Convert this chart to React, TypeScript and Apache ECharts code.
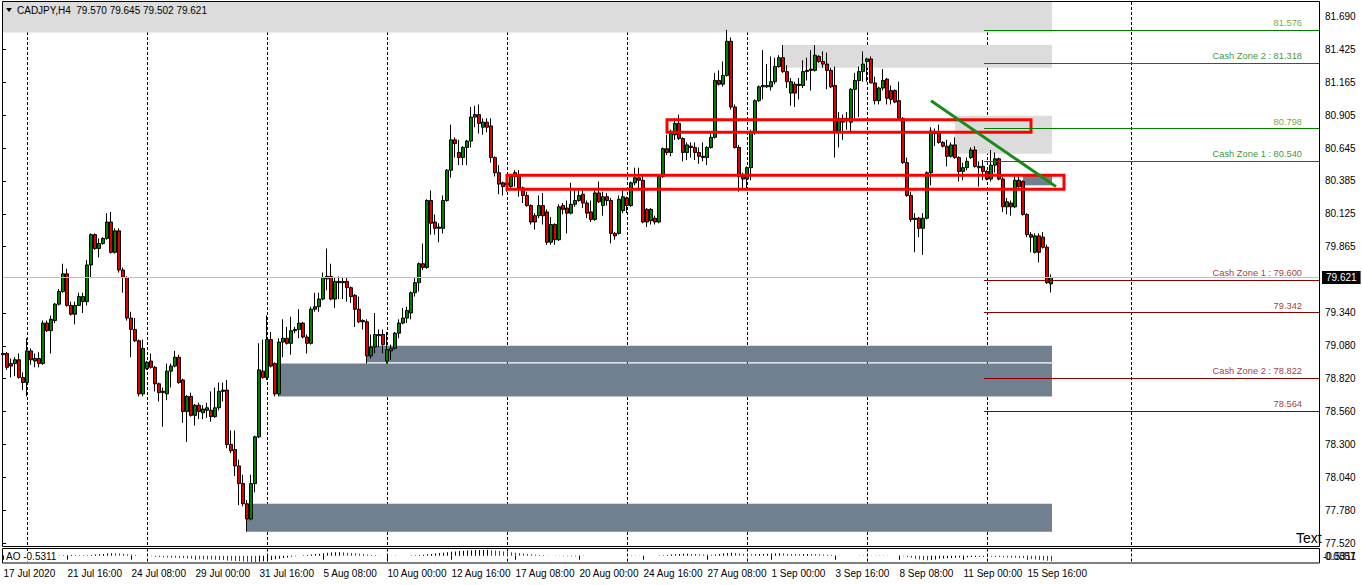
import React, { useEffect, useRef } from "react";
import * as echarts from "echarts";

const headerText = "CADJPY,H4  79.570 79.645 79.502 79.621";
const xTickLabels = [
  "17 Jul 2020", "21 Jul 16:00", "24 Jul 08:00", "29 Jul 00:00", "31 Jul 16:00",
  "5 Aug 08:00", "10 Aug 00:00", "12 Aug 16:00", "17 Aug 08:00", "20 Aug 00:00",
  "24 Aug 16:00", "27 Aug 08:00", "1 Sep 00:00", "3 Sep 16:00", "8 Sep 08:00",
  "11 Sep 00:00", "15 Sep 16:00",
];
const yTickValues = [77.52, 77.78, 78.04, 78.3, 78.56, 78.82, 79.08, 79.34, 79.865, 80.125, 80.385, 80.645, 80.905, 81.165, 81.425, 81.69];

// [open, close, low, high]
const candles: number[][] = [
  [79.01,79.02,78.91,79.11],[79.02,78.91,78.89,79.03],[78.94,78.92,78.83,78.98],[78.94,78.97,78.84,78.99],[78.97,78.83,78.82,79.02],
  [78.83,78.79,78.73,78.87],[78.79,79.04,78.68,79.14],[79.04,78.97,78.93,79.06],[78.96,78.98,78.91,79.02],[78.98,78.94,78.91,79.03],
  [78.94,79.26,78.93,79.28],[79.26,79.2,79.19,79.28],[79.2,79.29,79.02,79.32],[79.28,79.41,79.26,79.42],[79.41,79.51,79.4,79.53],
  [79.51,79.65,79.5,79.73],[79.65,79.4,79.39,79.69],[79.4,79.33,79.32,79.43],[79.33,79.4,79.25,79.43],[79.4,79.47,79.4,79.5],
  [79.43,79.47,79.34,79.5],[79.43,79.72,79.4,79.76],[79.72,79.96,79.62,79.97],[79.96,79.85,79.84,79.97],[79.85,79.89,79.78,79.93],
  [79.89,79.93,79.88,79.94],[79.93,80.06,79.92,80.13],[80.06,79.82,79.81,80.14],[79.82,79.99,79.81,80.01],[79.99,79.68,79.66,80.01],
  [79.68,79.62,79.5,79.7],[79.62,79.3,79.28,79.63],[79.3,79.21,78.99,79.35],[79.21,79.12,79.11,79.3],[79.12,78.7,78.68,79.13],
  [78.7,79.06,78.68,79.13],[78.9,78.95,78.89,78.96],[78.96,78.91,78.9,79.02],[78.91,78.78,78.72,78.92],[78.78,78.71,78.64,78.79],
  [78.72,78.71,78.44,78.75],[78.7,78.88,78.65,78.94],[78.88,78.92,78.75,78.94],[78.92,78.99,78.91,79.04],[78.99,78.79,78.78,79.01],
  [78.81,78.56,78.47,78.82],[78.56,78.68,78.32,78.69],[78.68,78.53,78.52,78.71],[78.53,78.61,78.45,78.62],[78.61,78.56,78.5,78.63],
  [78.55,78.58,78.5,78.61],[78.57,78.59,78.51,78.63],[78.57,78.52,78.48,78.72],[78.52,78.59,78.51,78.75],[78.59,78.72,78.57,78.79],
  [78.72,78.73,78.64,78.79],[78.73,78.3,78.27,78.81],[78.3,78.25,78.23,78.41],[78.26,78.13,78.05,78.41],[78.13,77.99,77.82,78.18],
  [77.99,77.83,77.81,78.06],[77.83,77.71,77.61,77.86],[77.71,77.99,77.7,78.06],[77.99,78.36,77.92,78.37],[78.36,78.89,78.35,79.1],
  [78.88,78.83,78.82,79.13],[78.83,79.13,78.81,79.32],[79.13,78.92,78.91,79.19],[78.94,78.7,78.68,78.95],[78.7,79.11,78.68,79.14],
  [79.11,79.14,78.99,79.29],[79.14,79.1,79.09,79.23],[79.1,79.2,79.01,79.31],[79.2,79.21,79.18,79.23],[79.21,79.26,79.14,79.37],
  [79.26,79.15,79.14,79.27],[79.15,79.1,79.02,79.17],[79.1,79.37,79.09,79.39],[79.37,79.39,79.35,79.5],[79.39,79.45,79.35,79.5],
  [79.45,79.62,79.44,79.66],[79.61,79.63,79.52,79.85],[79.63,79.45,79.44,79.73],[79.45,79.59,79.38,79.62],[79.59,79.58,79.45,79.63],
  [79.58,79.59,79.45,79.62],[79.59,79.54,79.43,79.62],[79.54,79.47,79.42,79.55],[79.48,79.37,79.23,79.49],[79.37,79.27,79.26,79.47],
  [79.28,79.27,79.21,79.29],[79.27,79.0,78.94,79.29],[79.0,79.07,78.98,79.17],[79.07,79.17,79.02,79.34],[79.16,79.17,79.07,79.21],
  [79.17,79.09,79.02,79.21],[78.96,79.05,78.94,79.19],[79.04,79.06,78.97,79.09],[79.06,79.18,79.05,79.19],[79.18,79.26,79.14,79.29],
  [79.26,79.3,79.25,79.38],[79.3,79.36,79.26,79.39],[79.34,79.5,79.29,79.51],[79.5,79.58,79.47,79.62],[79.58,79.73,79.51,79.74],
  [79.73,79.7,79.68,79.89],[79.7,80.23,79.69,80.24],[80.23,80.05,79.96,80.31],[80.06,80.01,79.96,80.12],[80.01,80.02,79.9,80.05],
  [80.01,80.23,79.97,80.27],[80.23,80.47,80.22,80.48],[80.47,80.71,80.41,80.83],[80.71,80.68,80.57,80.73],[80.61,80.57,80.51,80.71],
  [80.57,80.65,80.51,80.66],[80.65,80.7,80.51,80.71],[80.7,80.89,80.65,80.97],[80.89,80.91,80.81,80.98],[80.91,80.84,80.76,80.99],
  [80.81,80.85,80.75,80.88],[80.85,80.81,80.77,80.88],[80.82,80.57,80.53,80.88],[80.57,80.45,80.42,80.58],[80.45,80.36,80.28,80.51],
  [80.37,80.34,80.27,80.38],[80.35,80.37,80.3,80.41],[80.34,80.42,80.33,80.43],[80.42,80.45,80.34,80.47],[80.43,80.33,80.26,80.47],
  [80.33,80.27,80.21,80.34],[80.27,80.19,80.18,80.3],[80.19,80.06,80.04,80.2],[80.11,80.06,80.0,80.13],[80.11,80.19,80.09,80.27],
  [80.19,80.11,80.04,80.29],[80.14,79.9,79.88,80.16],[79.9,80.04,79.88,80.1],[80.04,79.92,79.88,80.05],[79.92,80.18,79.91,80.2],
  [80.19,80.16,80.12,80.21],[80.17,80.13,79.97,80.23],[80.13,80.2,80.12,80.37],[80.2,80.23,80.18,80.31],[80.23,80.27,80.22,80.31],
  [80.28,80.21,80.17,80.31],[80.21,80.13,80.09,80.23],[80.14,80.08,80.06,80.23],[80.08,80.29,80.07,80.31],[80.29,80.22,80.21,80.38],
  [80.19,80.26,80.11,80.3],[80.26,80.23,80.19,80.29],[80.23,79.97,79.89,80.25],[79.97,79.95,79.92,79.98],[79.97,80.24,79.96,80.27],
  [80.15,80.26,80.13,80.31],[80.25,80.19,80.13,80.26],[80.19,80.37,80.18,80.38],[80.37,80.41,80.35,80.49],[80.41,80.39,80.31,80.49],
  [80.39,80.06,80.05,80.43],[80.16,80.06,80.02,80.17],[80.07,80.16,80.04,80.17],[80.09,80.06,80.04,80.11],[80.06,80.42,80.05,80.43],
  [80.42,80.64,80.41,80.65],[80.64,80.61,80.59,80.75],[80.61,80.76,80.58,80.79],[80.75,80.84,80.71,80.88],[80.84,80.72,80.71,80.91],
  [80.72,80.61,80.54,80.73],[80.61,80.67,80.55,80.69],[80.66,80.65,80.57,80.69],[80.65,80.61,80.55,80.69],[80.61,80.58,80.52,80.65],
  [80.58,80.57,80.54,80.69],[80.57,80.65,80.51,80.66],[80.65,80.73,80.64,80.77],[80.73,81.18,80.72,81.24],[81.18,81.15,81.14,81.26],
  [81.15,81.22,81.13,81.33],[81.22,81.49,81.21,81.58],[81.49,80.97,80.95,81.52],[80.97,80.65,80.64,80.99],[80.65,80.42,80.3,80.67],
  [80.42,80.4,80.33,80.45],[80.4,80.49,80.31,80.5],[80.49,80.77,80.39,80.79],[80.77,81.02,80.75,81.03],[81.02,81.13,81.01,81.14],
  [81.13,81.14,81.03,81.42],[81.13,81.14,81.12,81.31],[81.13,81.17,81.1,81.37],[81.17,81.29,81.15,81.36],[81.29,81.36,81.28,81.38],
  [81.36,81.25,81.24,81.46],[81.25,81.17,81.12,81.3],[81.08,81.17,80.98,81.2],[81.15,81.08,80.97,81.17],[81.15,81.14,81.03,81.2],
  [81.14,81.25,81.12,81.34],[81.25,81.26,81.18,81.36],[81.26,81.27,81.1,81.42],[81.26,81.38,81.25,81.46],[81.37,81.33,81.32,81.38],
  [81.33,81.31,81.28,81.41],[81.31,81.26,81.11,81.4],[81.26,81.13,81.12,81.28],[81.14,80.78,80.57,81.29],[80.78,80.88,80.65,80.93],
  [80.85,80.88,80.71,80.91],[80.86,80.88,80.79,80.93],[80.85,81.11,80.78,81.12],[81.11,81.18,80.88,81.24],[81.18,81.25,80.89,81.29],
  [81.25,81.31,81.17,81.41],[81.33,81.35,81.17,81.36],[81.35,81.16,81.16,81.37],[81.16,81.02,80.99,81.21],[81.02,81.12,80.99,81.13],
  [81.12,81.18,81.1,81.27],[81.19,81.04,80.99,81.2],[81.1,81.03,80.99,81.14],[81.1,81.01,81.0,81.11],[81.02,80.88,80.87,81.17],
  [80.88,80.53,80.52,80.89],[80.53,80.27,80.26,80.57],[80.27,80.08,80.06,80.3],[80.08,80.09,79.82,80.13],[80.09,80.01,79.94,80.1],
  [80.01,80.09,79.8,80.13],[80.09,80.45,80.08,80.46],[80.45,80.78,80.35,80.81],[80.77,80.76,80.66,80.8],[80.76,80.69,80.68,80.83],
  [80.69,80.66,80.65,80.7],[80.66,80.58,80.5,80.71],[80.58,80.67,80.57,80.69],[80.67,80.57,80.56,80.73],[80.57,80.46,80.38,80.58],
  [80.46,80.49,80.39,80.53],[80.49,80.54,80.47,80.57],[80.57,80.63,80.56,80.65],[80.63,80.5,80.49,80.66],[80.5,80.49,80.34,80.54],
  [80.5,80.46,80.39,80.55],[80.46,80.4,80.39,80.47],[80.4,80.51,80.38,80.63],[80.51,80.56,80.45,80.61],[80.56,80.4,80.39,80.57],
  [80.4,80.18,80.14,80.42],[80.18,80.22,80.12,80.25],[80.21,80.18,80.11,80.23],[80.18,80.39,80.17,80.42],[80.39,80.34,80.33,80.42],
  [80.38,80.12,80.11,80.39],[80.12,79.96,79.94,80.13],[79.96,79.94,79.82,79.98],[79.82,79.95,79.81,79.97],[79.95,79.82,79.74,79.97],
  [79.94,79.86,79.85,79.98],[79.86,79.58,79.57,79.88],[79.57,79.621,79.502,79.645],
];

const aoValues = [
  -0.05,-0.06,-0.07,-0.07,-0.08,-0.08,-0.07,-0.06,-0.05,-0.04,-0.03,-0.02,-0.01,0.01,
  0.02,0.04,0.06,0.08,
  0.07,0.06,0.05,0.05,
  0.08,0.11,0.14,0.18,0.21,0.24,
  0.23,0.21,0.19,0.15,0.11,0.07,0.03,0.01,
  -0.03,-0.06,-0.09,-0.12,-0.15,-0.17,-0.19,-0.2,-0.22,-0.25,-0.27,-0.3,-0.32,-0.33,-0.35,-0.36,-0.37,-0.39,-0.4,-0.42,-0.45,-0.48,-0.5,-0.53,-0.56,-0.58,-0.6,-0.61,
  -0.58,-0.52,-0.46,
  -0.4,-0.34,-0.28,-0.22,-0.16,-0.1,-0.05,0,0.04,0.08,0.12,0.16,0.2,
  0.24,0.28,0.31,0.34,0.35,
  0.33,0.3,0.27,0.24,0.2,0.16,0.12,0.08,0.05,0.03,0.01,
  -0.01,-0.02,-0.02,-0.01,0.0,0.01,0.02,0.04,
  0.07,0.1,0.14,0.18,0.22,0.26,0.3,0.34,0.38,0.42,0.45,0.48,0.5,0.52,0.54,0.55,0.56,0.57,
  0.54,0.5,0.46,0.42,0.38,
  0.34,0.3,0.26,0.22,0.18,0.14,0.1,
  0.07,0.04,0.02,0.0,-0.02,-0.03,-0.04,-0.05,-0.05,
  -0.04,-0.03,-0.02,-0.01,0.0,0.0,0.01,0.01,0.01,0.0,0.0,-0.01,0.0,0.01,0.02,0.03,
  0.02,0.01,0.0,-0.01,0.0,0.02,0.05,
  0.08,0.11,0.14,0.17,0.19,0.2,
  0.18,0.16,0.14,0.12,0.11,0.1,0.13,0.17,
  0.22,0.27,0.3,
  0.27,0.22,0.18,0.15,0.14,0.15,0.16,
  0.18,0.2,0.21,0.22,0.23,0.22,0.2,
  0.18,0.16,0.15,0.16,0.17,0.16,0.15,0.14,0.12,0.1,0.08,
  0.05,0.02,0.0,-0.01,0.0,0.01,0.02,0.03,0.04,0.03,0.02,0.02,0.03,0.02,0.01,0.0,-0.02,
  -0.06,-0.12,-0.2,-0.28,-0.36,-0.42,-0.44,
  -0.4,-0.35,-0.3,-0.27,-0.25,
  -0.22,-0.2,-0.18,-0.16,-0.14,-0.12,-0.11,-0.1,-0.09,-0.09,
  -0.1,-0.11,-0.13,-0.15,-0.17,-0.19,-0.2,-0.22,-0.25,-0.28,-0.32,-0.36,-0.4,-0.44,-0.49,-0.53,
];

// zones: [fromIndex, fromPrice, toIndex, toPrice]
const lightZones = [[-0.25, 81.8, 262.25, 81.56], [195, 81.46, 262.25, 81.28], [238, 80.9, 262.25, 80.6]];
const darkZones = [[61, 77.83, 262.25, 77.61], [69, 78.94, 262.25, 78.68], [91, 79.08, 262.25, 78.95], [255, 80.43, 262.25, 80.35]];
const redBoxes = [[166, 80.87, 257, 80.77], [126, 80.43, 265.25, 80.32]];
const trendLine = [[232, 81.02], [263.25, 80.34]];
const levelPrices = [81.576, 81.318, 80.798, 80.54, 79.6, 79.342, 78.822, 78.564];
const levelTexts = ["81.576", "Cash Zone 2 : 81.318", "80.798", "Cash Zone 1 : 80.540", "Cash Zone 1 : 79.600", "79.342", "Cash Zone 2 : 78.822", "78.564"];
const levelSide = ["up", "up", "up", "up", "down", "down", "down", "down"];
const levelFrom = 245.25;
const lastPrice = 79.621;
const aoLabel = "AO -0.5311";
const aoScaleTexts = ["0.0857", "-0.5311"];
const gridLineIndex = [6, 36, 66, 96, 126, 156, 186, 216, 246, 282];

const SLOTS = 330;
const FONT = '"Liberation Sans", Arial, sans-serif';

export default function App() {
  const ref = useRef<HTMLDivElement>(null);
  useEffect(() => {
    if (!ref.current) return;
    const chart = echarts.init(ref.current, undefined, { renderer: "svg" });
    const cats = Array.from({ length: SLOTS }, (_, i) => String(i));
    const showLabel = (i: number) => i % 16 === 0 && i / 16 < xTickLabels.length;
    const splitLine = {
      show: true,
      interval: (i: number) => gridLineIndex.includes(i),
      lineStyle: { color: "#000", width: 1, type: [3, 2] },
    };
    const zoneItem = (z: number[], color: string) => [
      { coord: [z[0], z[1]], itemStyle: { color } },
      { coord: [z[2], z[3]] },
    ];
    const levelTextColor = (k: number) =>
      levelSide[k] === "up" ? (levelTexts[k].startsWith("Cash") ? "#007a00" : "#5c8c00") : "#8b0000";
    const option: any = {
      animation: false,
      backgroundColor: "#fff",
      grid: [
        { left: 3, top: 2, width: 1316, height: 544 },
        { left: 3.5, top: 548.5, width: 1316, height: 14.5 },
      ],
      xAxis: [
        { gridIndex: 0, type: "category", data: cats, boundaryGap: false, axisLine: { show: false }, axisTick: { show: false }, axisLabel: { show: false }, splitLine },
        { gridIndex: 0, type: "value", min: 0, max: SLOTS - 1, show: false },
        {
          gridIndex: 1, type: "category", data: cats, boundaryGap: false,
          axisLine: { show: false },
          axisTick: { show: true, interval: showLabel, length: 4, lineStyle: { color: "#000" } },
          axisLabel: {
            interval: showLabel, align: "left", margin: 5, fontSize: 10, fontFamily: FONT, color: "#000",
            formatter: (_v: string, i: number) => xTickLabels[i / 16] ?? "",
          },
          splitLine,
        },
      ],
      yAxis: [
        {
          gridIndex: 0, type: "value", position: "right", min: 77.4963, max: 81.8008,
          axisLine: { show: false }, splitLine: { show: false },
          axisTick: { show: true, customValues: yTickValues, length: 3, lineStyle: { color: "#000" } },
          axisLabel: { customValues: yTickValues, formatter: (v: number) => v.toFixed(3), fontSize: 10, fontFamily: FONT, color: "#000", margin: 6 },
        },
        { gridIndex: 1, type: "value", min: -0.7, max: 0.7, show: false },
      ],
      series: [
        {
          type: "scatter", xAxisIndex: 1, yAxisIndex: 0, data: [], silent: true, clip: false, z: 1,
          markArea: {
            silent: true, z: 1,
            data: [
              ...lightZones.map((z) => zoneItem(z, "#dcdcdc")),
              ...darkZones.map((z) => zoneItem(z, "#708090")),
            ],
          },
        },
        {
          type: "candlestick", xAxisIndex: 0, yAxisIndex: 0, data: candles, barWidth: 3, clip: false, z: 2,
          itemStyle: { color: "#008000", color0: "#e00000", borderColor: "#000", borderColor0: "#000", borderWidth: 1 },
          markLine: {
            silent: true, symbol: ["none", "none"], z: 3,
            lineStyle: { color: "#c0c0c0", width: 1, type: "solid" },
            label: {
              show: true, position: "end", formatter: lastPrice.toFixed(3), distance: 3,
              backgroundColor: "#000", color: "#fff", padding: [2, 4, 1, 4], fontSize: 10, fontFamily: FONT,
            },
            data: [{ yAxis: lastPrice }],
          },
        },
        {
          type: "scatter", xAxisIndex: 1, yAxisIndex: 0, silent: true, clip: false, z: 6,
          symbolSize: 0,
          data: levelPrices.map((p, k) => ({
            value: [324.75, p],
            label: { formatter: levelTexts[k], color: levelTextColor(k) },
          })),
          label: { show: true, position: "left", distance: 0, offset: [0, -7], fontSize: 9.3, fontFamily: FONT },
          markArea: {
            silent: true, z: 6,
            itemStyle: { color: "rgba(0,0,0,0)", borderColor: "#ff0000", borderWidth: 3 },
            data: redBoxes.map((b) => [{ coord: [b[0], b[1]] }, { coord: [b[2], b[3]] }]),
          },
          markLine: {
            silent: true, symbol: ["none", "none"], z: 7, label: { show: false },
            data: [
              [
                { coord: trendLine[0], lineStyle: { color: "#1a8a1a", width: 3, type: "solid" } },
                { coord: trendLine[1] },
              ],
              ...levelPrices.map((p, k) => [
                { coord: [levelFrom, p], lineStyle: { color: levelSide[k] === "up" ? "#008000" : "#8b0000", width: 1, type: "solid" } },
                { coord: [SLOTS - 1, p] },
              ]),
            ],
          },
        },
        {
          type: "bar", xAxisIndex: 2, yAxisIndex: 1, barWidth: 1, silent: true,
          data: aoValues,
          itemStyle: {
            color: (p: any) => (p.dataIndex === 0 || aoValues[p.dataIndex] >= aoValues[p.dataIndex - 1] ? "#000" : "#e00000"),
          },
        },
      ],
      graphic: [
        { type: "rect", z: 20, silent: true, shape: { x: 2.5, y: 1.5, width: 1317, height: 545 }, style: { fill: "none", stroke: "#000", lineWidth: 1 } },
        { type: "rect", z: 20, silent: true, shape: { x: 2.5, y: 548.5, width: 1317, height: 14.5 }, style: { fill: "none", stroke: "#000", lineWidth: 1 } },
        { type: "polygon", z: 21, silent: true, shape: { points: [[6, 8], [12, 8], [9, 12]] }, style: { fill: "#000" } },
        { type: "text", z: 21, silent: true, x: 17, y: 5, style: { text: headerText, font: `10px ${FONT}`, fill: "#000" } },
        { type: "text", z: 21, silent: true, x: 6, y: 551, style: { text: aoLabel, font: `10px ${FONT}`, fill: "#000", backgroundColor: "#fff" } },
        { type: "text", z: 21, silent: true, x: 1296, y: 531, style: { text: "Text", font: `14px ${FONT}`, fill: "#000" } },
        { type: "text", z: 21, silent: true, x: 1325, y: 551, style: { text: aoScaleTexts[0], font: `10px ${FONT}`, fill: "#000" } },
        { type: "text", z: 21, silent: true, x: 1323, y: 551, style: { text: aoScaleTexts[1], font: `10px ${FONT}`, fill: "#000" } },
      ],
    };
    chart.setOption(option);
    return () => chart.dispose();
  }, []);
  return <div ref={ref} style={{ position: "fixed", left: 0, top: 0, width: 1362, height: 585, background: "#fff" }} />;
}
